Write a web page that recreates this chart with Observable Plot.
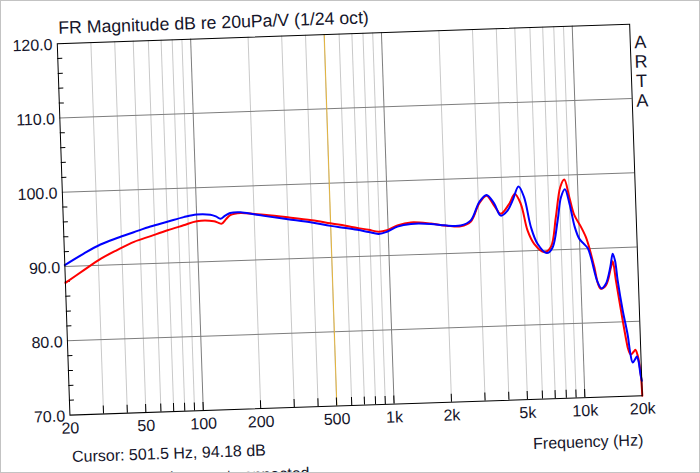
<!DOCTYPE html>
<html><head><meta charset="utf-8">
<script src="https://cdn.jsdelivr.net/npm/d3@7"></script>
<script src="https://cdn.jsdelivr.net/npm/@observablehq/plot@0.6"></script>
<style>
html,body{margin:0;padding:0;background:#fff;}
#frame{position:relative;width:700px;height:473px;overflow:hidden;box-sizing:border-box;border:1px solid #c3c3c3;background:#fff;}
#rot{position:absolute;left:-1px;top:-1px;width:700px;height:473px;transform:rotate(-1.95deg);transform-origin:350px 236px;}
</style></head><body>
<div id="frame"><div id="rot"></div></div>
<script>
// Blue trace
const blueFreq = [20,25,31,38,46.5,57,70,85.5,100,118,126,133,141,150,170,200,225,300,400,500,600,690,790,890,985,1120,1320,1680,1980,2400,2720,3030,3320,3630,3910,4250,4540,4900,5220,5600,6020,6710,7200,7740,8140,8560,9000,9490,9970,10500,11000,11400,12220,12800,13500,14330,14830,15210,15580,16340,17200,17600,18050,18600,19050,19400,19710,20000];
const blueDb = [90.2,91.6,92.8,93.6,94.3,95.0,95.55,96.1,96.4,96.3,96.05,95.7,96.1,96.45,96.5,96.15,95.9,95.35,94.8,94.25,93.9,93.6,93.25,92.95,93.2,93.85,94.15,94.05,93.8,93.7,94.35,96.75,97.7,96.5,94.85,95.5,96.85,98.7,97.2,93.15,90.9,89.6,90.3,93.9,97.05,98.1,96.1,93.0,91.4,90.7,90.1,88.8,85.5,84.6,85.2,87.4,89.2,88.3,85.6,81.6,78.2,75.8,74.5,74.9,75.3,74.6,73.0,72.0];
// Red trace
const redFreq = [20,25,31,38,46.5,57,70,85,100,123,129,135,142,150,170,200,225,300,400,500,600,690,790,890,985,1120,1320,1680,2030,2400,2720,3030,3320,3630,3910,4350,4670,5000,5370,5780,6500,7060,7590,8100,8530,9000,9480,10220,10800,11250,11800,12600,13500,14450,14790,15260,16010,16800,17200,17700,18300,18740,19200,19550,19850,20000];
const redDb = [87.8,89.4,90.9,92.0,93.0,93.7,94.4,95.0,95.5,95.4,95.2,95.05,95.6,96.15,96.4,96.2,96.05,95.6,95.1,94.6,94.2,93.85,93.55,93.25,93.4,94.0,94.35,94.1,93.75,93.6,94.2,96.6,97.6,96.2,95.1,96.4,97.7,96.35,92.7,90.9,89.75,90.4,94.4,98.4,99.4,97.0,94.6,93.0,91.6,90.0,87.6,84.6,85.0,87.4,88.2,85.6,81.6,77.8,76.3,75.6,75.9,76.2,75.5,74.3,72.5,70.0];

const freqTicks = [20,50,100,200,500,1000,2000,5000,10000,20000];
const freqTickLabels = ["20","50","100","200","500","1k","2k","5k","10k","20k"];
const dbTicks = [70,80,90,100,110,120];
const dbTickLabels = ["70.0","80.0","90.0","100.0","110.0","120.0"];
const minorFreqGrid = [30,40,50,60,70,80,90,200,300,400,500,600,700,800,900,2000,3000,4000,5000,6000,7000,8000,9000];
const majorFreqGrid = [100,1000,10000];
const dbGrid = [80,90,100,110];
const dbMinorTicks = [72,74,76,78,82,84,86,88,92,94,96,98,102,104,106,108,112,114,116,118];
const cursorFreq = 501.5;
const titleText = "FR Magnitude dB re 20uPa/V (1/24 oct)";
const cursorText = "Cursor: 501.5 Hz, 94.18 dB";
const xLabelText = "Frequency (Hz)";
const statusText = "Phase not connected";
const brandLetters = ["A","R","T","A"];

const W = 700, H = 473, mL = 63.5, mR = 63.8, mT = 33.3, mB = 68;
const plotW = W - mL - mR, plotH = H - mT - mB;
const blue = blueFreq.map((f, i) => ({f, db: blueDb[i]}));
const red = redFreq.map((f, i) => ({f, db: redDb[i]}));
const ink = "#15152a";

const chart = Plot.plot({
  width: W, height: H,
  marginLeft: mL, marginRight: mR, marginTop: mT, marginBottom: mB,
  x: {type: "log", domain: [20, 20000], axis: null},
  y: {domain: [70, 120], axis: null},
  style: {background: "transparent", overflow: "visible", fontFamily: "'Liberation Sans', Arial, sans-serif", fontSize: "16px", color: ink},
  marks: [
    Plot.ruleX(minorFreqGrid, {stroke: "#c9c9c9", strokeWidth: 1}),
    Plot.ruleX(majorFreqGrid, {stroke: "#7d7d7d", strokeWidth: 1}),
    Plot.ruleY(dbGrid, {stroke: "#7d7d7d", strokeWidth: 1}),
    Plot.ruleX([cursorFreq], {stroke: "#e2b33c", strokeWidth: 1}),
    Plot.ruleX([...minorFreqGrid, ...majorFreqGrid], {stroke: "#000", insetTop: plotH - 8}),
    Plot.ruleY(dbMinorTicks, {stroke: "#000", insetRight: plotW - 5}),
    Plot.line(red, {x: "f", y: "db", stroke: "#ff0000", strokeWidth: 2, curve: "catmull-rom"}),
    Plot.line(blue, {x: "f", y: "db", stroke: "#0000ff", strokeWidth: 2, curve: "catmull-rom"}),
    Plot.frame({stroke: "#000"}),
    Plot.text(dbTicks, {y: d => d, text: (d, i) => dbTickLabels[i], frameAnchor: "left", textAnchor: "end", dx: -4.8, dy: 1}),
    Plot.text(freqTicks, {x: d => d, text: (d, i) => freqTickLabels[i], frameAnchor: "bottom", dy: 18.4}),
    Plot.text([titleText], {frameAnchor: "top-left", textAnchor: "start", lineAnchor: "bottom", dx: 1.5, dy: -9.8, fontSize: 17.7}),
    ...brandLetters.map((ch, i) => Plot.text([ch], {frameAnchor: "top-right", textAnchor: "middle", dx: 10, dy: 11.4 + 19.5 * i, fontSize: 18})),
    Plot.text([xLabelText], {frameAnchor: "bottom-right", textAnchor: "end", lineAnchor: "bottom", dx: -0.5, dy: 49.7}),
    Plot.text([cursorText], {frameAnchor: "bottom-left", textAnchor: "start", lineAnchor: "bottom", dx: 0.7, dy: 47}),
    Plot.text([statusText], {frameAnchor: "bottom-left", textAnchor: "end", lineAnchor: "bottom", dx: 237.5, dy: 71.3})
  ]
});
document.getElementById("rot").appendChild(chart);
</script>
</body></html>
